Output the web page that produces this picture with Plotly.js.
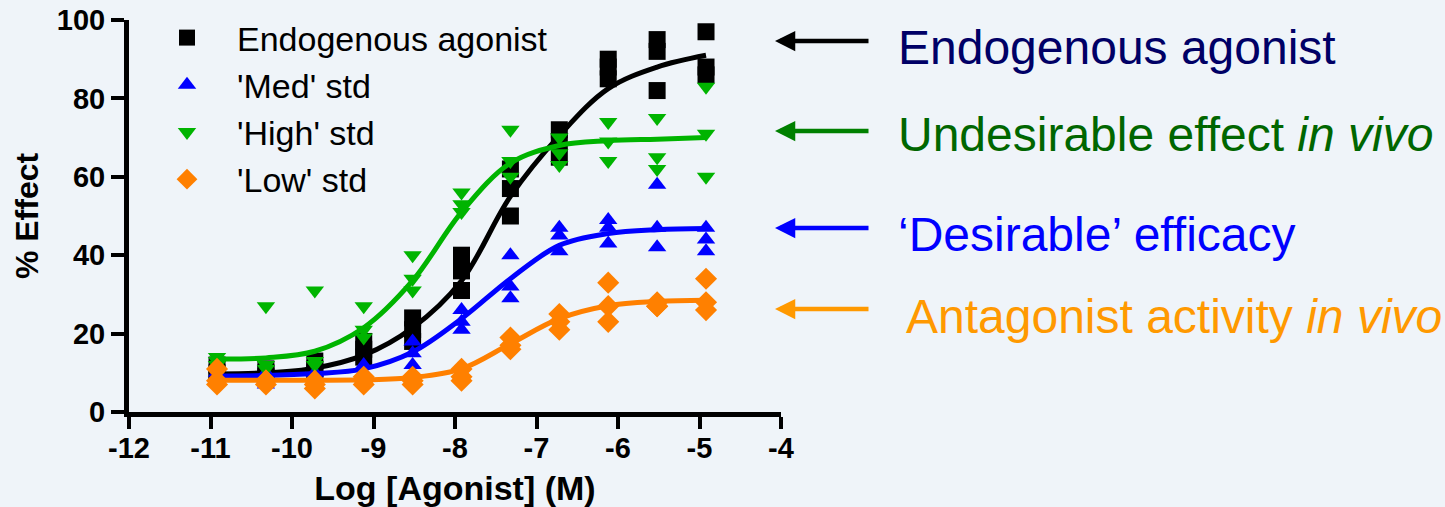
<!DOCTYPE html>
<html>
<head>
<meta charset="utf-8">
<script src="https://cdn.plot.ly/plotly-3.0.1.min.js"></script>
<style>
html,body{margin:0;padding:0;background:#EFF4F9;}
#chart{width:1445px;height:507px;}
</style>
</head>
<body>
<div id="chart"></div>
<script>
// ---- Data ----
const logConc = [-10.92, -10.32, -9.72, -9.12, -8.52, -7.92, -7.32, -6.72, -6.12, -5.52, -4.92];

// Endogenous agonist (three replicates)
const endoRep1 = [12, 11, 13, 18, 24, 40, 62, 72, 90, 95, 97];
const endoRep2 = [10, 10, 11, 16, 21, 36, 57, 69, 88, 92, 88];
const endoRep3 = [9, 9, 10, 14, 18, 31, 50, 65, 85, 82, 86];
const endoFit  = [9.7, 10.0, 11.2, 14.5, 21.5, 33.5, 55, 70.5, 82.5, 88, 91];

// 'Med' std
const medRep1 = [10, 7, 10, 12, 18, 26, 40, 47, 49, 58, 47];
const medRep2 = [9, 9, 9, 10, 15, 23, 32, 45, 47, 47, 44];
const medRep3 = [8, 10, 8, 9, 12, 21, 29, 41, 43, 42, 41];
const medFit  = [9.2, 9.3, 9.8, 11, 15.3, 23.8, 34, 42.5, 45.5, 46.5, 46.8];

// 'High' std
const highRep1 = [14, 27, 31, 27, 40, 56, 72, 70, 74, 75, 83];
const highRep2 = [13, 12, 13, 21, 34, 53, 64, 66, 69, 65, 71];
const highRep3 = [12, 11, 12, 19, 31, 51, 60, 63, 64, 62, 60];
const highFit  = [13.5, 13.8, 15.5, 21.5, 33.5, 51, 63.5, 68, 69.2, 69.6, 70];

// 'Low' std
const lowRep1 = [11, 8, 8, 9, 9, 11, 19, 25, 33, 28, 34];
const lowRep2 = [8, 8, 7, 8, 8, 9, 17, 23, 27, 27, 28];
const lowRep3 = [7, 7, 6, 7, 7, 8, 16, 21, 23, 27, 26];
const lowFit  = [8.1, 8.1, 8.1, 8.2, 8.8, 11, 17.4, 23.8, 27.1, 28.2, 28.5];

const seriesNames = ["Endogenous agonist", "'Med' std", "'High' std", "'Low' std"];
const xTicks = [-12, -11, -10, -9, -8, -7, -6, -5, -4];
const yTicks = [0, 20, 40, 60, 80, 100];

const sideLabels = [
  "Endogenous agonist",
  "Undesirable effect <i>in vivo</i>",
  "\u2018Desirable\u2019 efficacy",
  "Antagonist activity <i>in vivo</i>"
];

// ---- helpers ----
function flatX(reps){ const out=[]; reps.forEach(r=>r.forEach((v,i)=>out.push(logConc[i]))); return out; }
function flatY(reps){ const out=[]; reps.forEach(r=>r.forEach(v=>out.push(v))); return out; }

const BLACK = '#000000', BLUE = '#0000FF', GREEN = '#00B400', ORANGE = '#FF8000';
const FONT = 'Liberation Sans, Arial, sans-serif';

function pts(reps, name, sym, col, size, rank){
  return {type:'scatter', mode:'markers', name:name, x:flatX(reps), y:flatY(reps),
    marker:{symbol:sym, color:col, size:size, line:{width:0}}, legendrank:rank, cliponaxis:false};
}
function fit(vals, col){
  return {type:'scatter', mode:'lines', x:logConc, y:vals, showlegend:false,
    line:{color:col, width:5, shape:'spline', smoothing:1}, hoverinfo:'skip'};
}

const traces = [
  pts([endoRep1,endoRep2,endoRep3], seriesNames[0], 'square', BLACK, 17, 1),
  fit(endoFit, BLACK),
  pts([medRep1,medRep2,medRep3], seriesNames[1], 'triangle-up', BLUE, 16, 2),
  fit(medFit, BLUE),
  pts([highRep1,highRep2,highRep3], seriesNames[2], 'triangle-down', GREEN, 16, 3),
  fit(highFit, GREEN),
  pts([lowRep1,lowRep2,lowRep3], seriesNames[3], 'diamond', ORANGE, 17, 4),
  fit(lowFit, ORANGE)
];

const L = 129, R = 781, T = 20, B = 412;
const W = 1445, H = 507;
function px(xp){ return (xp - L)/(R - L); }
function py(yp){ return (B - yp)/(B - T); }

const arrowCols = ['#000000', '#008000', '#0000FF', '#FF9900'];
const textCols  = ['#000066', '#006600', '#0000FF', '#FF9900'];
const arrowY = [41, 131, 228, 309];
const textY  = [48, 134, 234, 316];
const textX  = [896, 896, 896, 904];

const annotations = [];
for (let i=0;i<4;i++){
  annotations.push({xref:'paper', yref:'paper', x:px(775), y:py(arrowY[i]), ax:95, ay:0,
    text:'', showarrow:true, arrowhead:2, arrowsize:0.9, arrowwidth:4.5, arrowcolor:arrowCols[i]});
  annotations.push({xref:'paper', yref:'paper', x:px(textX[i]), y:py(textY[i]), xanchor:'left', yanchor:'middle',
    text:sideLabels[i], showarrow:false,
    font:{family:FONT, size:48, color:textCols[i]}});
}

const layout = {
  width:W, height:H,
  paper_bgcolor:'#EFF4F9', plot_bgcolor:'#EFF4F9',
  margin:{l:L, r:W-R, t:T, b:H-B, pad:0, autoexpand:false},
  showlegend:true,
  legend:{x:px(137), y:py(9), xanchor:'left', yanchor:'top', bgcolor:'rgba(0,0,0,0)',
    font:{family:FONT, size:34, color:'#000'},
    itemwidth:90, tracegroupgap:0, traceorder:'normal'},
  xaxis:{range:[-12,-4], tickvals:xTicks, ticktext:xTicks.map(v=>String(v)),
    showgrid:false, zeroline:false, showline:true, linewidth:5, linecolor:'#000',
    ticks:'outside', ticklen:12, tickwidth:4, tickcolor:'#000', ticklabelstandoff:-6,
    tickfont:{family:FONT, size:29, color:'#000', weight:'bold'},
    title:{text:'Log [Agonist] (M)', font:{family:FONT, size:34, color:'#000', weight:'bold'}, standoff:17},
    automargin:false, fixedrange:true},
  yaxis:{range:[0,100], tickvals:yTicks, ticktext:yTicks.map(v=>String(v)),
    showgrid:false, zeroline:false, showline:true, linewidth:5, linecolor:'#000',
    ticks:'outside', ticklen:13, tickwidth:4, tickcolor:'#000',
    tickfont:{family:FONT, size:29, color:'#000', weight:'bold'},
    title:{text:'% Effect', font:{family:FONT, size:32, color:'#000', weight:'bold'}, standoff:10},
    automargin:false, fixedrange:true},
  annotations:annotations
};

Plotly.newPlot('chart', traces, layout, {displayModeBar:false, staticPlot:true});
</script>
</body>
</html>
